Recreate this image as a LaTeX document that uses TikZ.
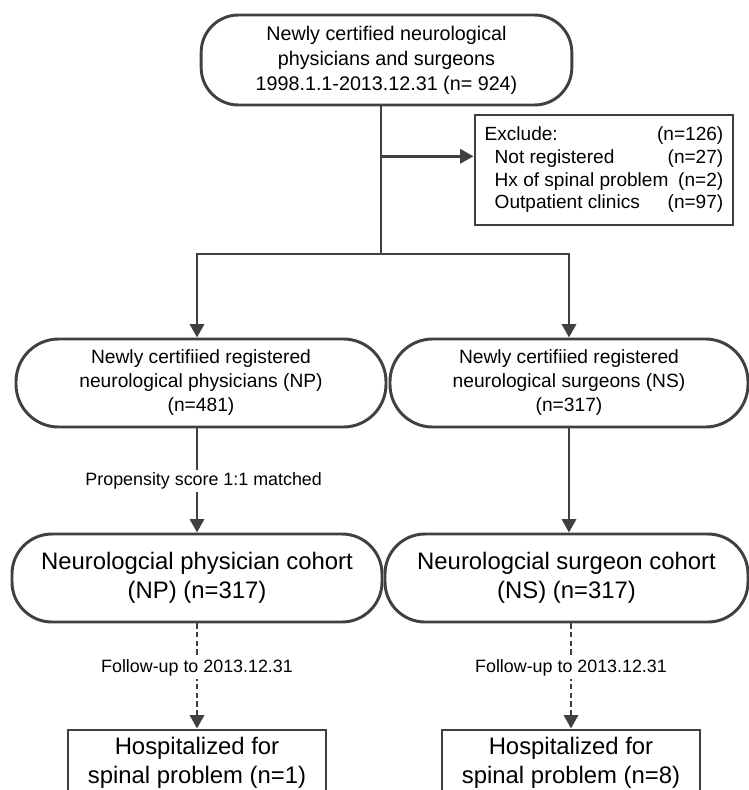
\documentclass[tikz,border=0pt]{standalone}
\usepackage{fontspec}
\setmainfont{Liberation Sans}
\usepackage{tikz}
\usetikzlibrary{arrows.meta,calc}
\definecolor{linegray}{HTML}{404040}
\newcommand{\nval}[1]{\llap{#1}}
\tikzset{
   base node/.style={rectangle,draw=linegray,line width=2.2pt,align=center,inner sep=0pt},
   start node/.style={base node,rounded corners=28pt,minimum width=278pt,minimum height=67.5pt,
                      font=\fontsize{14.8}{18.75}\selectfont},
   group node/.style={base node,rounded corners=32pt,minimum height=66pt,
                      font=\fontsize{14.4}{18}\selectfont},
   cohort node/.style={base node,rounded corners=30pt,minimum height=66pt,
                      font=\fontsize{17.9}{21.5}\selectfont},
   exclude node/.style={base node,minimum width=193.5pt,minimum height=82.5pt,
                      font=\fontsize{14.3}{17.2}\selectfont},
   outcome node/.style={base node,minimum width=193.5pt,minimum height=49.5pt,
                      font=\fontsize{17.9}{21.5}\selectfont},
   arrow label/.style={fill=white,inner sep=2pt,font=\fontsize{13.4}{16}\selectfont}
}

\begin{document}
\begin{tikzpicture}[x=0.75pt,y=-0.75pt,
                    >={Triangle[length=10pt,width=10.5pt]},
                    line width=2.2pt,draw=linegray]
\clip (0,0) rectangle (749,790);
\node[start node]               (top)    at (386.5,60) {Newly certified neurological\\physicians and surgeons\\1998.1.1-2013.12.31 (n= 924)};
\node[exclude node]             (excl)   at (604,170)  {\begin{tabular*}{179pt}{@{}l@{\extracolsep{\fill}}r@{}}
  Exclude: & \nval{(n=126)}\\
  \hspace{7.5pt}Not registered & \nval{(n=27)}\\
  \hspace{7.5pt}Hx of spinal problem & \nval{(n=2)}\\
  \hspace{7.5pt}Outpatient clinics & \nval{(n=97)}
  \end{tabular*}};
\coordinate (split) at (381,254);
%
\node[group node,minimum width=277.5pt]   (npreg)  at (201,383) {Newly certifiied registered\\neurological physicians (NP)\\(n=481)};
\node[group node,minimum width=268.5pt]   (nsreg)  at (569,383) {Newly certifiied registered\\neurological surgeons (NS)\\(n=317)};
\node[cohort node,minimum width=277.5pt]  (cohnp)  at (197,578) {Neurologcial physician cohort\\(NP) (n=317)};
\node[cohort node,minimum width=272.25pt] (cohns)  at (566.5,578) {Neurologcial surgeon cohort\\(NS) (n=317)};
\node[outcome node]             (hospnp) at (197,763)  {Hospitalized for\\spinal problem (n=1)};
\node[outcome node]             (hospns) at (571,763)  {Hospitalized for\\spinal problem (n=8)};
%
\draw[->] (top.south -| split) -- (split) -| (cohnp |- npreg.north);
\draw[->] (split) -| (nsreg.north);
\draw[->] (excl.174 -| split) -- (excl.174);
\draw[->] (npreg.south -| cohnp) -- node[arrow label,xshift=5pt] {Propensity score 1:1 matched} (cohnp.north);
\draw[->] (nsreg.south) -- (cohns.north -| nsreg);
\path[->,dash pattern=on 4pt off 2.5pt,every node/.style={arrow label,pos=0.42}]
  (cohnp.south) edge node {Follow-up to 2013.12.31} (hospnp.north)
  (cohns.south -| hospns) edge node {Follow-up to 2013.12.31} (hospns.north)
  ;
\end{tikzpicture}
\end{document}
